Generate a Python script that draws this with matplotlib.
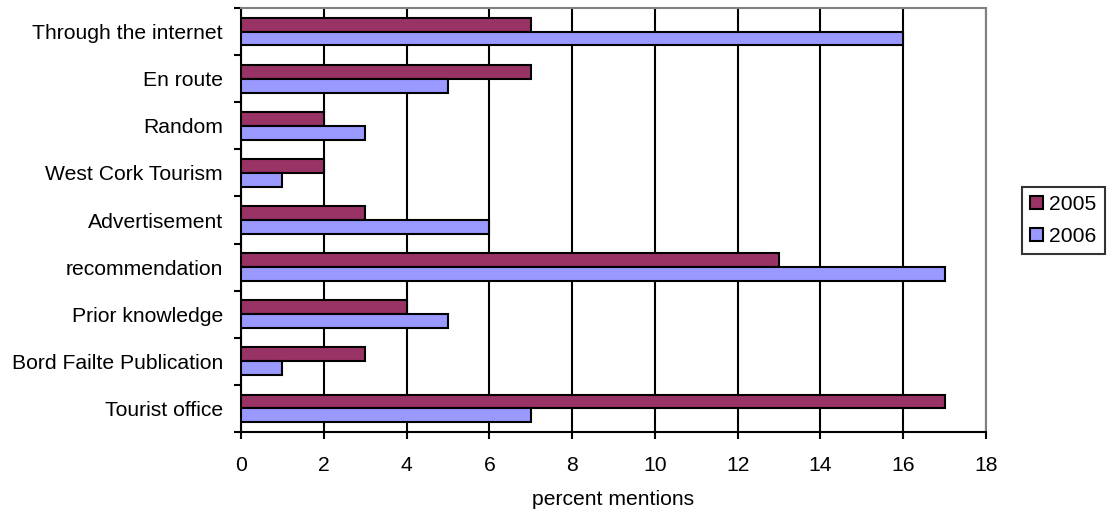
import numpy as np
import matplotlib.pyplot as plt

plt.rcParams['font.family'] = ['Liberation Sans', 'DejaVu Sans']

categories = ['Tourist office', 'Bord Failte Publication', 'Prior knowledge',
              'recommendation', 'Advertisement', 'West Cork Tourism',
              'Random', 'En route', 'Through the internet']
v2005 = [17, 3, 4, 13, 3, 2, 2, 7, 7]
v2006 = [7, 1, 5, 17, 6, 1, 3, 5, 16]

fs = 15.2

fig = plt.figure(figsize=(11.07, 5.12), dpi=100)
ax = fig.add_axes([241 / 1107, 1 - 432 / 512, 745 / 1107, 424 / 512])

y = np.arange(len(categories))
h = 0.295
ax.barh(y + h / 2, v2005, height=h, color='#993366', edgecolor='black',
        linewidth=1.5, label='2005', zorder=3)
ax.barh(y - h / 2, v2006, height=h, color='#9999FF', edgecolor='black',
        linewidth=1.5, label='2006', zorder=3)

ax.set_xlim(0, 18)
ax.set_ylim(-0.5, len(categories) - 0.5)
ax.set_xticks(range(0, 19, 2))
ax.xaxis.grid(True, color='black', linewidth=1.5, zorder=0)
ax.set_yticks(np.arange(-0.5, len(categories), 1))
ax.set_yticklabels([])
ax.set_yticks(y, minor=True)
ax.set_yticklabels(categories, minor=True)
ax.tick_params(axis='y', which='minor', length=0, pad=13, labelsize=fs)
ax.tick_params(axis='y', which='major', length=5, width=1.5, direction='out')
ax.tick_params(axis='x', length=5, width=1.5, direction='out', labelsize=fs, pad=12)
ax.set_xlabel('percent mentions', fontsize=fs, labelpad=11)

for s in ['left', 'bottom']:
    ax.spines[s].set_color('black')
    ax.spines[s].set_linewidth(1.5)
for s in ['top', 'right']:
    ax.spines[s].set_color('#808080')
    ax.spines[s].set_linewidth(1.5)

leg = ax.legend(loc='center left', bbox_to_anchor=(1.048, 0.499), fontsize=fs,
                frameon=True, fancybox=False, edgecolor='black',
                handlelength=0.6, handleheight=0.6, handletextpad=0.3,
                borderpad=0.4, labelspacing=0.6, borderaxespad=0)
leg.get_frame().set_linewidth(1.5)

fig.savefig('out.png', dpi=100)
